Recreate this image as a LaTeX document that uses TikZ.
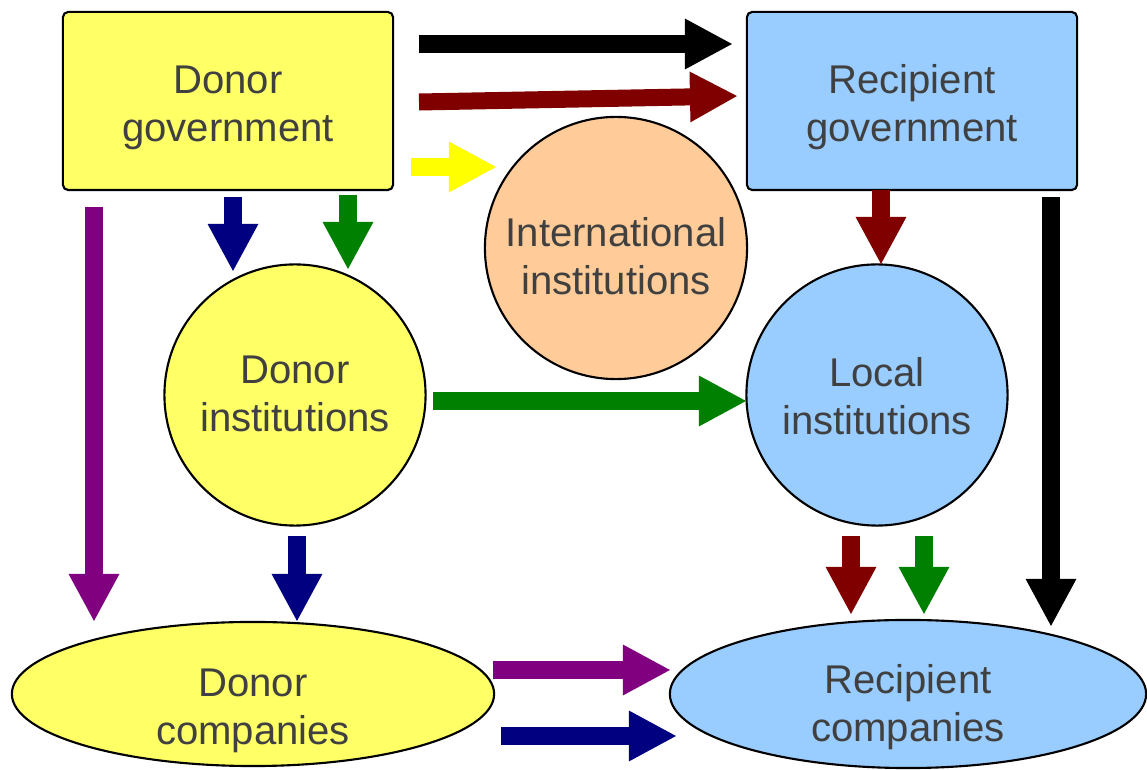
\documentclass[tikz,border=0pt]{standalone}
\usepackage{fontspec}
\setmainfont{Liberation Sans}
\usetikzlibrary{shapes.geometric,arrows.meta}
\definecolor{donoryellow}{HTML}{FFFF66}
\definecolor{recipblue}{HTML}{99CCFF}
\definecolor{intlpeach}{HTML}{FFCC99}
\definecolor{flowred}{HTML}{800000}
\definecolor{flownavy}{HTML}{000080}
\definecolor{flowgreen}{HTML}{008000}
\definecolor{flowpurple}{HTML}{800080}
\definecolor{flowyellow}{HTML}{FFFF00}
\definecolor{labelgray}{HTML}{404040}
\newcommand{\actorname}[2]{\raisebox{-#1}[\height][\depth]{\begin{tabular}{@{}c@{}}#2\end{tabular}}}

\tikzset{
	actor/.style={draw,line width=0.6pt,text=labelgray,
		font=\fontsize{11.4}{13.6}\selectfont},
	govbox/.style={actor,rectangle,rounded corners=1.5pt,minimum width=3.3cm,minimum height=1.78cm},
	instball/.style={actor,circle,inner sep=0pt,minimum size=2.61cm},
	firmoval/.style={actor,ellipse,inner sep=0pt},
	flow/.style={line width=0.17cm,-{Triangle[width=0.47cm,length=0.48cm]}},
}

\begin{document}
\begin{tikzpicture}[x=0.01cm,y=-0.01cm]
			\useasboundingbox (0,0) rectangle (1147,770);
			
			\node[govbox,fill=donoryellow] (dgov) at (228,101) {\actorname{0.07cm}{Donor\\government}};
			\node[govbox,fill=recipblue] (rgov) at (912,101) {\actorname{0.07cm}{Recipient\\government}};
			\node[instball,fill=intlpeach,minimum size=2.62cm] (intl) at (616,248) {\actorname{0.13cm}{International\\institutions}};
			\node[instball,fill=donoryellow] (dinst) at (295,395) {\actorname{0.03cm}{Donor\\institutions}};
			\node[instball,fill=recipblue] (linst) at (877,395) {\actorname{0.06cm}{Local\\institutions}};
			\node[firmoval,fill=donoryellow,minimum width=4.82cm,minimum height=1.44cm] (dcomp) at (253,694) {\actorname{0.17cm}{Donor\\companies}};
			\node[firmoval,fill=recipblue,minimum width=4.76cm,minimum height=1.48cm] (rcomp) at (908,694) {\actorname{0.14cm}{Recipient\\companies}};
			
			% arrow ends
			\coordinate (gg1a) at (419,44);   \coordinate (gg1b) at (733,44);
			\coordinate (gg2a) at (419,102);  \coordinate (gg2b) at (738,96);
			\coordinate (gia) at (411,167);   \coordinate (gib) at (497,167);
			\coordinate (gca) at (94,207);    \coordinate (gcb) at (94,622);
			\coordinate (gd1a) at (233,197);  \coordinate (gd1b) at (233,272);
			\coordinate (gd2a) at (348,195);  \coordinate (gd2b) at (348,270);
			\coordinate (rla) at (881,190);   \coordinate (rlb) at (881,265);
			\coordinate (rca) at (1051,197);  \coordinate (rcb) at (1051,627);
			\coordinate (dla) at (433,401);   \coordinate (dlb) at (747,401);
			\coordinate (dca) at (297,536);   \coordinate (dcb) at (297,622);
			\coordinate (lc1a) at (851,536);  \coordinate (lc1b) at (851,615);
			\coordinate (lc2a) at (924,536);  \coordinate (lc2b) at (924,615);
			\coordinate (cc1a) at (493,670);  \coordinate (cc1b) at (671,670);
			\coordinate (cc2a) at (501,736);  \coordinate (cc2b) at (677,736);
			
			\draw[flow,black] (gg1a) -- (gg1b);
			\draw[flow,flowred] (gg2a) -- (gg2b);
			\draw[flow,flowyellow] (gia) -- (gib);
			\draw[flow,flowpurple] (gca) -- (gcb);
			\draw[flow,flownavy] (gd1a) -- (gd1b);
			\draw[flow,flowgreen] (gd2a) -- (gd2b);
			\draw[flow,flowred] (rla) -- (rlb);
			\draw[flow,black] (rca) -- (rcb);
			\draw[flow,flowgreen] (dla) -- (dlb);
			\draw[flow,flownavy] (dca) -- (dcb);
			\draw[flow,flowred] (lc1a) -- (lc1b);
			\draw[flow,flowgreen] (lc2a) -- (lc2b);
			\draw[flow,flowpurple] (cc1a) -- (cc1b);
			\draw[flow,flownavy] (cc2a) -- (cc2b);
		\end{tikzpicture}
\end{document}
